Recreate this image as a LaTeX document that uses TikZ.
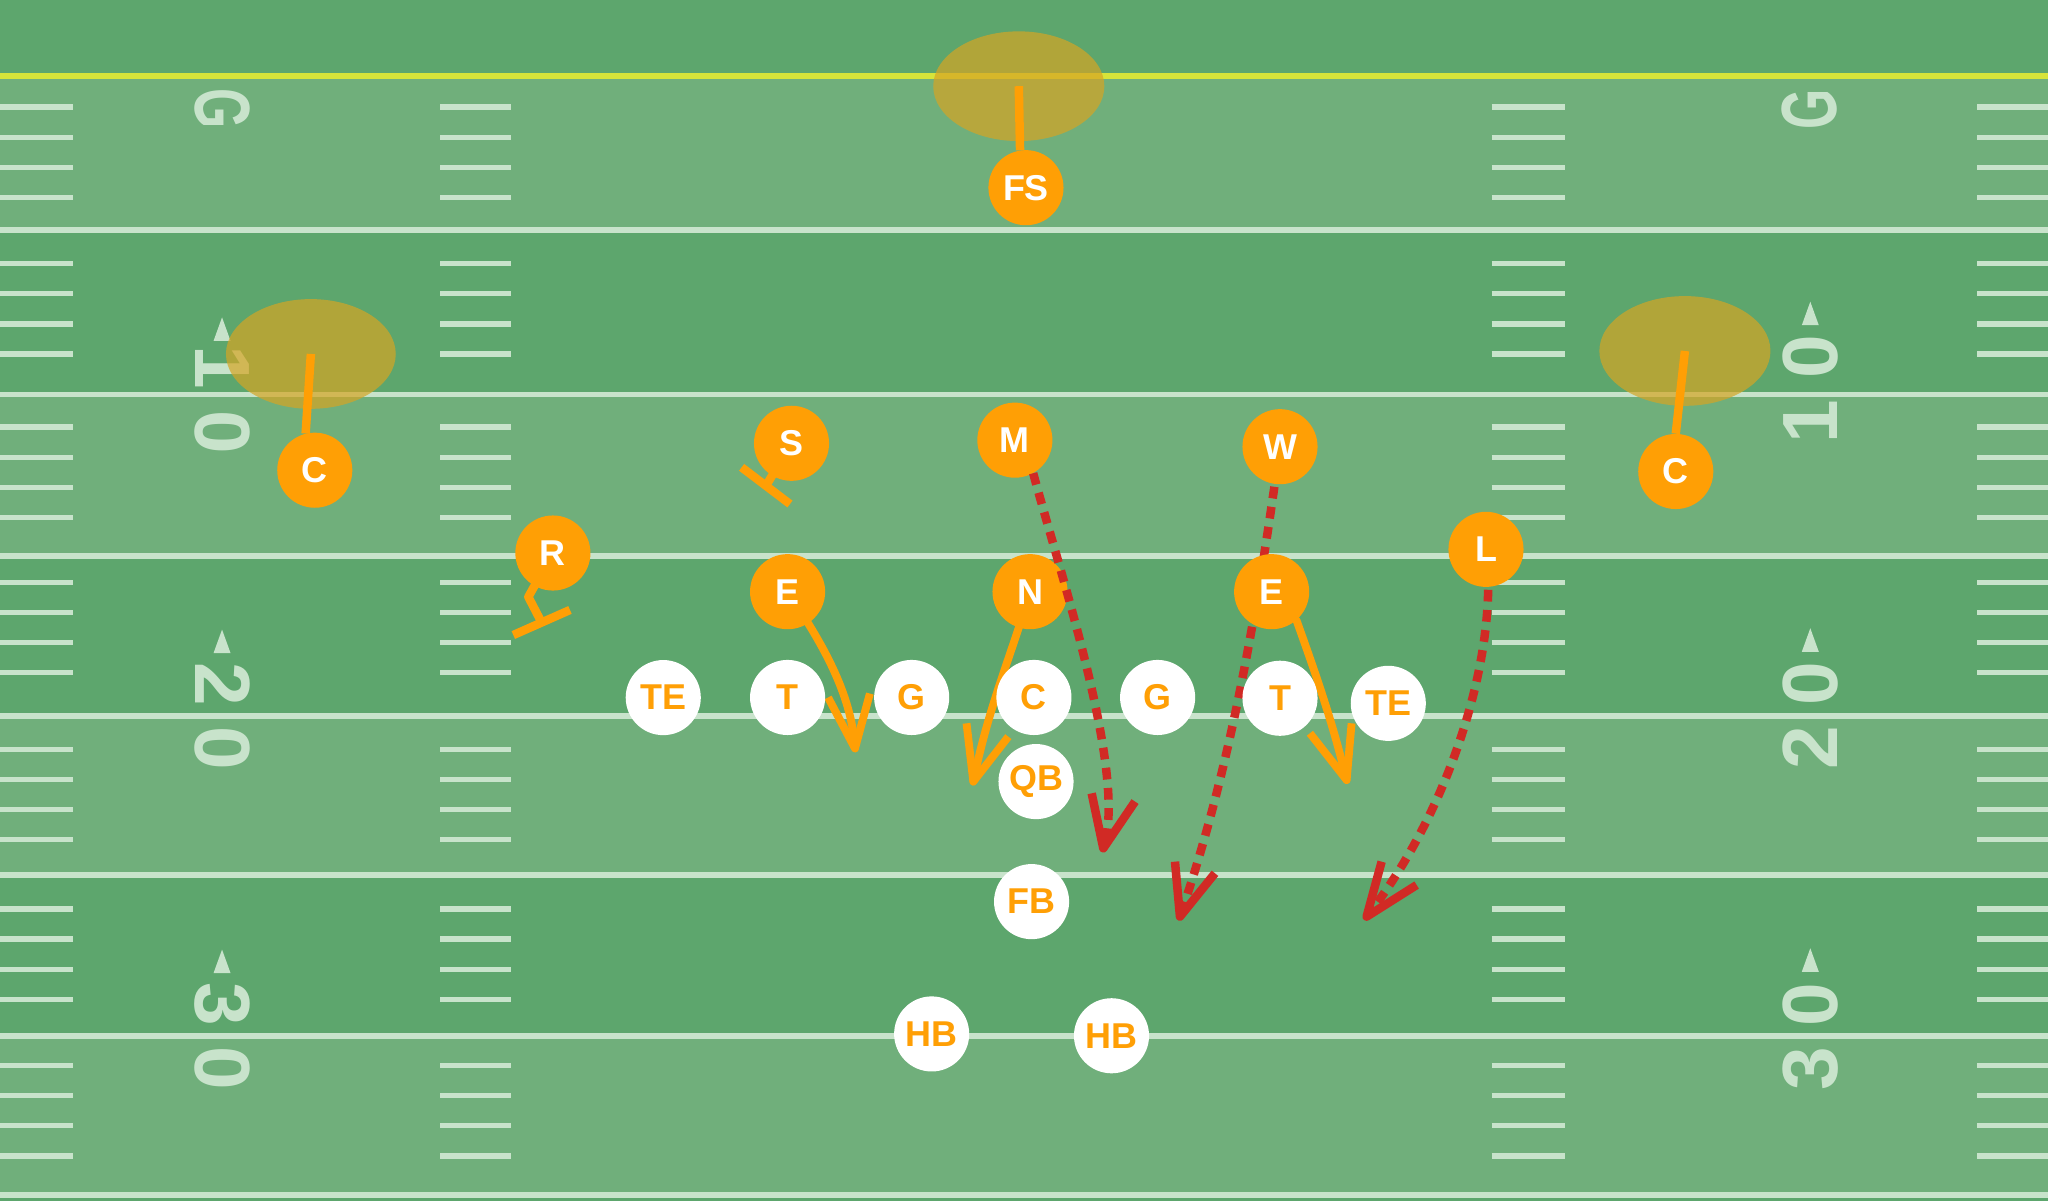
\documentclass[tikz,border=0pt]{standalone}
\usepackage{fontspec}
\usepackage{graphicx}
\setmainfont{Liberation Sans}
\usetikzlibrary{calc}
\pgfdeclarelayer{field}
\pgfdeclarelayer{routes}
\pgfdeclarelayer{top}
\pgfsetlayers{field,routes,main,top}
\definecolor{fdark}{HTML}{5DA66D}
\definecolor{flight}{HTML}{70AF7B}
\definecolor{fline}{HTML}{C8E3CB}
\definecolor{fyellow}{HTML}{D6E43A}
\definecolor{porange}{HTML}{FF9F05}
\definecolor{pred}{HTML}{D12A25}
\definecolor{zonecol}{HTML}{D6A524}
\begin{document}
\begin{tikzpicture}[x=1pt,y=-1pt,
 player/.style={circle,minimum size=57.5pt,inner sep=0pt,font=\fontsize{27.5}{30}\selectfont\bfseries},
 defp/.style={player,fill=porange,text=white},
 offp/.style={player,fill=white,text=porange},
 oline/.style={draw=porange,line width=6.5pt,line cap=butt,line join=round},
 oroute/.style={draw=porange,line width=6pt,line cap=round,line join=round},
 rroute/.style={draw=pred,line width=6.5pt,dash pattern=on 9pt off 6.5pt,shorten >=3pt},
 rhead/.style={draw=pred,line width=6.5pt,line cap=butt,line join=round},
 ohead/.style={draw=porange,line width=6pt,line cap=butt,line join=round},
 zonefill/.style={fill=zonecol,fill opacity=0.7},
 hash/.style={draw=fline,line width=4pt},
 yline/.style={draw=fline,line width=4.5pt},
 yardnum/.style={text=fline,inner sep=0pt,font=\fontsize{60}{60}\selectfont\bfseries},
]
\useasboundingbox (0,0) rectangle (1568,919.5);

% ---------------- players
\node[defp] (fs) at (785.5,143.7) {FS};
\node[defp] (cl) at (241,360) {C};
\node[defp] (cr) at (1283,361) {C};
\node[defp] (s) at (606,339.4) {S};
\node[defp] (m) at (777,337) {M};
\node[defp] (w) at (980,342) {W};
\node[defp] (r) at (423.3,423.4) {R};
\node[defp] (l) at (1137.7,420.6) {L};
\node[defp] (el) at (603,453) {E};
\node[defp] (n) at (788.6,453) {N};
\node[defp] (er) at (973.6,453) {E};
\node[offp] (te1) at (507.8,534.1) {TE};
\node[offp] (t1) at (603,534) {T};
\node[offp] (g1) at (698,534) {G};
\node[offp] (c) at (791.6,534) {C};
\node[offp] (g2) at (886.3,534) {G};
\node[offp] (t2) at (980,534.6) {T};
\node[offp] (te2) at (1062.9,538.5) {TE};
\node[offp] (qb) at (793.2,598.4) {QB};
\node[offp] (fb) at (789.8,690.3) {FB};
\node[offp] (hb1) at (713.3,791.6) {HB};
\node[offp] (hb2) at (851,793) {HB};

% ---------------- field
\begin{pgfonlayer}{field}
\fill[fdark] (0,0) rectangle (1568,919.5);
\foreach \a/\b in {58/176,302/426,548/670,793/915}
  \fill[flight] (0,\a) rectangle (1568,\b);
\foreach \y in {176,302,426,548,670,793,915}
  \draw[yline] (0,\y) -- (1568,\y);
\draw[draw=fyellow,line width=4.5pt] (0,58) -- (1568,58);
\foreach \t in {82,202,327,446,574,696,816}
  \foreach \k in {0,1,2,3}
    \foreach \a/\b in {0/56,337/391,1142/1198,1514/1568}
      \draw[hash] (\a,\t+23*\k) -- (\b,\t+23*\k);
\node[yardnum,rotate=-90] (lg) at (170.5,83.5) {\scalebox{0.66}[1]{G}};
\node[yardnum,rotate=-90] (l10) at (170,306) {1\kern16pt 0};
\node[yardnum,rotate=-90] (l20) at (170,548.5) {2\kern16pt 0};
\node[yardnum,rotate=-90] (l30) at (170,793.5) {3\kern16pt 0};
\node[yardnum,rotate=90] (rg) at (1385.7,83.5) {\scalebox{0.66}[1]{G}};
\node[yardnum,rotate=90] (r10) at (1386,298) {1\kern16pt 0};
\node[yardnum,rotate=90] (r20) at (1386,548) {2\kern16pt 0};
\node[yardnum,rotate=90] (r30) at (1386,793.5) {3\kern16pt 0};
\foreach \x/\y in {170/252,170/491,170/736,1386/240,1386/490,1386/735}
  \fill[fline] (\x-6.5,\y+9) -- (\x+6.5,\y+9) -- (\x,\y-9) -- cycle;
\end{pgfonlayer}

% ---------------- zones and routes
\begin{pgfonlayer}{routes}
\coordinate (zt) at (780,66);
\coordinate (zl) at (238,271);
\coordinate (zr) at (1290,268.7);
\fill[zonefill] (zt) ellipse [x radius=65.5pt, y radius=42pt];
\fill[zonefill] (zl) ellipse [x radius=65pt, y radius=42pt];
\fill[zonefill] (zr) ellipse [x radius=65.5pt, y radius=42pt];
\draw[oline] (zt) -- (fs.99);
\draw[oline] (zl) -- (cl.104);
\draw[oline] (zr) -- (cr.north);
% blocks
\coordinate (sbm) at (586.4,372);
\coordinate (sb1) at (567.8,357.8);
\coordinate (sb2) at (604.8,385.9);
\draw[oline] (s.center) -- (sbm);
\draw[oline] (sb1) -- (sb2);
\coordinate (rk) at (404.5,457);
\coordinate (rbm) at (414.7,476.6);
\coordinate (rb1) at (393,486.2);
\coordinate (rb2) at (436.4,467);
\draw[oline] (r.center) -- (rk) -- (rbm);
\draw[oline] (rb1) -- (rb2);
% orange rushes
\coordinate (eltip) at (654.6,573);
\coordinate (ela) at (634,534);
\coordinate (elb) at (666,531);
\draw[oroute] (el.center) .. controls (628,490) and (652,530) .. (eltip);
\draw[ohead] (ela) -- (eltip) -- (elb);
\coordinate (ntip) at (745.2,598.4);
\coordinate (na) at (740,553.8);
\coordinate (nb) at (772,564);
\draw[oroute] (n.center) .. controls (775,500) and (757,540) .. (ntip);
\draw[ohead] (na) -- (ntip) -- (nb);
\coordinate (ertip) at (1031,597.2);
\coordinate (era) at (1002.9,561.4);
\coordinate (erb) at (1034.8,553.8);
\draw[oroute] (er.311) .. controls (1007,515) and (1020,552) .. (ertip);
\draw[ohead] (era) -- (ertip) -- (erb);
% red blitzes
\coordinate (wtip) at (903.4,701.8);
\coordinate (wa) at (899.6,659.7);
\coordinate (wb) at (930.2,668.6);
\draw[rroute] (w.center) .. controls (965,450) and (945,580) .. (wtip);
\draw[rhead] (wa) -- (wtip) -- (wb);
\coordinate (ltip) at (1046.3,701.8);
\coordinate (la) at (1057.8,659.7);
\coordinate (lb) at (1084.6,677.6);
\draw[rroute] (l.center) .. controls (1148,500) and (1110,620) .. (ltip);
\draw[rhead] (la) -- (ltip) -- (lb);
\end{pgfonlayer}

% M blitz runs over the edge of N
\begin{pgfonlayer}{top}
\coordinate (mtip) at (844.7,649.5);
\coordinate (ma) at (835.8,607.4);
\coordinate (mb) at (869,613.7);
\draw[rroute] (m.-61) .. controls (812,440) and (862,590) .. (mtip);
\draw[rhead] (ma) -- (mtip) -- (mb);
\end{pgfonlayer}
\end{tikzpicture}
\end{document}
